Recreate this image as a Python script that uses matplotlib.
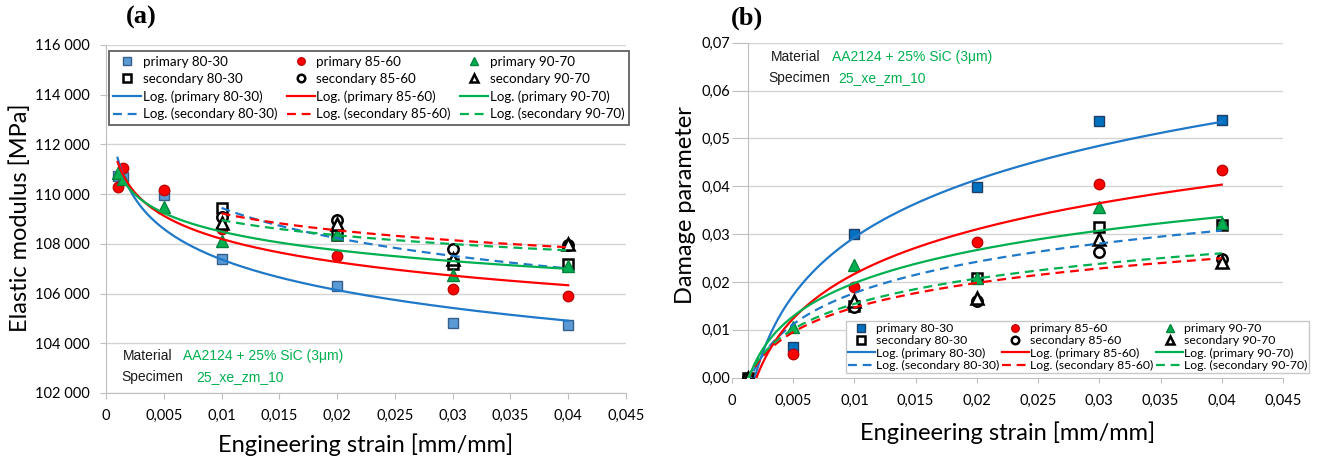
import numpy as np
import matplotlib
matplotlib.use("Agg")
import matplotlib.pyplot as plt
from matplotlib.ticker import FuncFormatter, MultipleLocator

# ---- data: panel (a) elastic modulus [MPa] ----
strain_prim_a = [0.001, 0.0015, 0.005, 0.01, 0.02, 0.03, 0.04]
prim_80_30_a = [110750, 110700, 109950, 107400, 106300, 104800, 104750]
prim_85_60_a = [110300, 111050, 110150, 108600, 107500, 106200, 105900]
prim_90_70_a = [110850, 110600, 109500, 108100, 108400, 106750, 107100]

strain_sec_a = [0.01, 0.02, 0.03, 0.04]
sec_80_30_a = [109450, 108350, 107200, 107200]
sec_85_60_a = [109100, 108950, 107780, 107950]
sec_90_70_a = [108850, 108800, 107400, 107980]

# ---- data: panel (b) damage parameter ----
strain_prim_b = [0.0013, 0.005, 0.01, 0.02, 0.03, 0.04]
prim_80_30_b = [0.0, 0.0064, 0.0300, 0.0398, 0.0536, 0.0539]
prim_85_60_b = [0.0, 0.0050, 0.0190, 0.0283, 0.0405, 0.0433]
prim_90_70_b = [0.0, 0.0106, 0.0235, 0.0209, 0.0357, 0.0323]

strain_sec_b = [0.0013, 0.01, 0.02, 0.03, 0.04]
sec_80_30_b = [0.0, 0.0150, 0.0208, 0.0315, 0.0319]
sec_85_60_b = [0.0, 0.0147, 0.0161, 0.0262, 0.0248]
sec_90_70_b = [0.0, 0.0160, 0.0167, 0.0290, 0.0241]

names = ["80-30", "85-60", "90-70"]
AXIS_CROSS_B = 0.0013  # vertical axis of (b) crosses here

BLUE, RED, GREEN = "#1f78c8", "#ff0000", "#00b050"
GRID, SPINE = "#d4d4d4", "#bfbfbf"

plt.rcParams["font.family"] = ["Lato", "DejaVu Sans"]


def log_fit(x, y):
    # same as Excel "Log." trendline: y = c*ln(x) + b
    c, b = np.polyfit(np.log(x), y, 1)
    xs = np.linspace(min(x), max(x), 300)
    return xs, c * np.log(xs) + b


def fmt_x(v, pos):
    return ("%g" % round(v, 4)).replace(".", ",")


def draw_panel(ax, xp, prims, xs, secs, sq_fill, sq_edge):
    styles = [("s", sq_fill, sq_edge, 7.5), ("o", RED, "#c00000", 7.5), ("^", GREEN, "#00843c", 8.5)]
    lcols = [BLUE, RED, GREEN]
    handles = []
    for i in range(3):
        m, fc, ec, ms = styles[i]
        hp, = ax.plot(xp, prims[i], ls="none", marker=m, ms=ms, mfc=fc, mec=ec, mew=1.0,
                      zorder=4, label="primary " + names[i])
        hs, = ax.plot(xs, secs[i], ls="none", marker=m, ms=ms, mfc="white", mec="black", mew=1.8,
                      zorder=4, label="secondary " + names[i])
        fx, fy = log_fit(xp, prims[i])
        hl, = ax.plot(fx, fy, color=lcols[i], lw=1.6, zorder=5,
                      label="Log. (primary %s)" % names[i])
        fx, fy = log_fit(xs, secs[i])
        hd, = ax.plot(fx, fy, color=lcols[i], lw=1.6, ls=(0, (4, 2.6)), zorder=5,
                      label="Log. (secondary %s)" % names[i])
        handles += [hp, hs, hl, hd]
    return handles


fig = plt.figure(figsize=(13.17, 4.58), dpi=100)

# ================= panel (a) =================
axA = fig.add_axes([106 / 1317, 1 - 393 / 458, 520 / 1317, 348 / 458])
hA = draw_panel(axA, strain_prim_a, [prim_80_30_a, prim_85_60_a, prim_90_70_a],
                strain_sec_a, [sec_80_30_a, sec_85_60_a, sec_90_70_a], "#5b9bd5", "#35608c")
axA.set_xlim(0, 0.045)
axA.set_ylim(102000, 116000)
axA.xaxis.set_major_locator(MultipleLocator(0.005))
axA.yaxis.set_major_locator(MultipleLocator(2000))
axA.xaxis.set_major_formatter(FuncFormatter(fmt_x))
axA.yaxis.set_major_formatter(FuncFormatter(lambda v, p: "{:,}".format(int(v)).replace(",", " ")))
axA.grid(axis="y", color=GRID, lw=1.0)
axA.set_axisbelow(True)
for s in ["top", "right"]:
    axA.spines[s].set_visible(False)
for s in ["left", "bottom"]:
    axA.spines[s].set_color(SPINE)
axA.tick_params(axis="both", colors=SPINE, labelcolor="black", labelsize=10.5, length=4.3)
axA.tick_params(axis="y", pad=7.5)
axA.tick_params(axis="x", pad=7)
axA.set_ylabel("Elastic modulus [MPa]", fontsize=17)
axA.set_xlabel("Engineering strain [mm/mm]", fontsize=17)
axA.yaxis.set_label_coords(-0.145, 0.503)
axA.xaxis.set_label_coords(0.5, -0.115)

legA = axA.legend(handles=hA, ncol=3, loc="upper left", bbox_to_anchor=(0.005, 0.982, 1.001, 0),
                  mode="expand", borderaxespad=0, fontsize=9.6, frameon=True, fancybox=False,
                  edgecolor="#606060", framealpha=1, labelspacing=0.38, handlelength=2.1,
                  handletextpad=0.1, markerscale=0.72, borderpad=0.35)
legA.get_frame().set_linewidth(1.3)
legA.set_zorder(6)

axA.text(0.033, 0.106, "Material", transform=axA.transAxes, fontsize=10, va="center",
         family="Liberation Sans", color="#1a1a1a")
axA.text(0.148, 0.106, "AA2124 + 25% SiC (3\u03bcm)", transform=axA.transAxes, fontsize=10,
         va="center", family="Liberation Sans", color=GREEN)
axA.text(0.030, 0.046, "Specimen", transform=axA.transAxes, fontsize=10, va="center",
         family="Liberation Sans", color="#1a1a1a")
axA.text(0.173, 0.046, "25_xe_zm_10", transform=axA.transAxes, fontsize=10, va="center",
         family="Liberation Sans", color=GREEN)

# ================= panel (b) =================
axB = fig.add_axes([732 / 1317, 1 - 377.7 / 458, 551 / 1317, 335 / 458])
hB = draw_panel(axB, strain_prim_b, [prim_80_30_b, prim_85_60_b, prim_90_70_b],
                strain_sec_b, [sec_80_30_b, sec_85_60_b, sec_90_70_b], "#0070c0", "#1f3f66")
axB.set_xlim(0, 0.045)
axB.set_ylim(0, 0.07)
axB.xaxis.set_major_locator(MultipleLocator(0.005))
axB.yaxis.set_major_locator(MultipleLocator(0.01))
axB.xaxis.set_major_formatter(FuncFormatter(fmt_x))
axB.yaxis.set_major_formatter(FuncFormatter(lambda v, p: ("%.2f" % v).replace(".", ",")))
axB.hlines(np.arange(0.01, 0.0701, 0.01), AXIS_CROSS_B, 0.045, color=GRID, lw=1.0, zorder=0)
axB.spines["left"].set_position(("data", AXIS_CROSS_B))
axB.spines["bottom"].set_bounds(AXIS_CROSS_B, 0.045)
for s in ["top", "right"]:
    axB.spines[s].set_visible(False)
for s in ["left", "bottom"]:
    axB.spines[s].set_color(SPINE)
axB.tick_params(axis="both", colors=SPINE, labelcolor="black", labelsize=10.5)
axB.tick_params(axis="y", length=11.5, pad=1)
axB.tick_params(axis="x", length=3.5, pad=8)
axB.set_ylabel("Damage parameter", fontsize=17)
axB.set_xlabel("Engineering strain [mm/mm]", fontsize=17)
axB.yaxis.set_label_coords(-0.065, 0.515)
axB.xaxis.set_label_coords(0.5, -0.13)

legB = axB.legend(handles=hB, ncol=3, loc="lower left", bbox_to_anchor=(0.207, 0.015, 0.841, 0),
                  mode="expand", borderaxespad=0, fontsize=8.8, frameon=True, fancybox=False,
                  edgecolor="#c8c8c8", framealpha=1, labelspacing=0.1, handlelength=2.2,
                  handletextpad=0.1, markerscale=0.72, borderpad=0.15)
legB.get_frame().set_linewidth(1.0)
legB.set_zorder(6)

axB.text(0.071, 0.956, "Material", transform=axB.transAxes, fontsize=10, va="center",
         family="Liberation Sans", color="#1a1a1a")
axB.text(0.181, 0.956, "AA2124 + 25% SiC (3\u03bcm)", transform=axB.transAxes, fontsize=10,
         va="center", family="Liberation Sans", color=GREEN)
axB.text(0.066, 0.896, "Specimen", transform=axB.transAxes, fontsize=10, va="center",
         family="Liberation Sans", color="#1a1a1a")
axB.text(0.193, 0.896, "25_xe_zm_10", transform=axB.transAxes, fontsize=10, va="center",
         family="Liberation Sans", color=GREEN)

# panel letters
fig.text(141 / 1317, 1 - 17 / 458, "(a)", fontsize=19, fontweight="bold",
         family="Liberation Serif", ha="center", va="center")
fig.text(747 / 1317, 1 - 18 / 458, "(b)", fontsize=19, fontweight="bold",
         family="Liberation Serif", ha="center", va="center")

fig.savefig("out.png", dpi=100)
